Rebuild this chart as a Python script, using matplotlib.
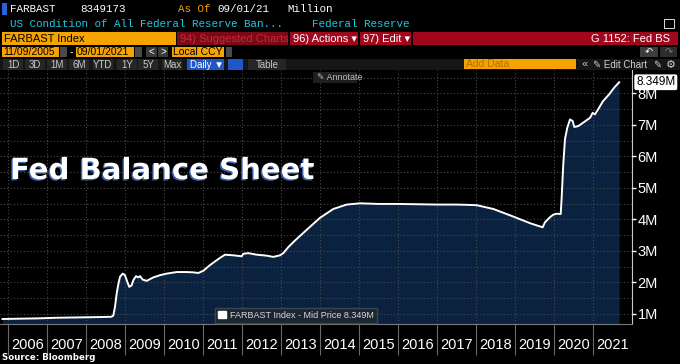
import matplotlib
matplotlib.use("Agg")
import matplotlib.pyplot as plt
import matplotlib.patheffects as pe
from matplotlib.patches import Rectangle, Patch
import numpy as np

# FARBAST Index (Fed total assets), in M = million millions USD
years = [2005.86, 2006.25, 2006.75, 2007.25, 2007.75, 2008.25, 2008.65, 2008.70,
         2008.744, 2008.787, 2008.83, 2008.872, 2008.941, 2009.0, 2009.059, 2009.11,
         2009.172, 2009.213, 2009.282, 2009.341, 2009.385, 2009.454, 2009.556, 2009.726,
         2009.897, 2010.069, 2010.326, 2010.582, 2010.751, 2010.879, 2011.008, 2011.179,
         2011.436, 2011.564, 2011.777, 2011.992, 2012.033, 2012.162, 2012.377, 2012.633,
         2012.803, 2012.974, 2013.059, 2013.187, 2013.359, 2013.659, 2014.0, 2014.341,
         2014.685, 2015.026, 2015.5, 2016.0, 2016.5, 2017.0, 2017.5, 2017.8,
         2018.018, 2018.444, 2018.956, 2019.385, 2019.556, 2019.71, 2019.769, 2019.897,
         2019.982, 2020.069, 2020.172, 2020.197, 2020.238, 2020.282, 2020.341, 2020.41,
         2020.479, 2020.521, 2020.623, 2020.751, 2020.923, 2020.992, 2021.051, 2021.18,
         2021.256, 2021.41, 2021.538, 2021.67]
values = [0.84, 0.85, 0.86, 0.88, 0.89, 0.90, 0.91, 0.95,
          1.23, 1.65, 1.95, 2.18, 2.28, 2.23, 2.02, 1.86,
          1.91, 2.07, 2.20, 2.16, 2.20, 2.09, 2.05, 2.16,
          2.23, 2.28, 2.33, 2.33, 2.32, 2.30, 2.37, 2.55,
          2.78, 2.88, 2.86, 2.83, 2.91, 2.93, 2.88, 2.85,
          2.81, 2.86, 2.93, 3.12, 3.33, 3.67, 4.05, 4.33,
          4.47, 4.51, 4.49, 4.49, 4.48, 4.47, 4.47, 4.46,
          4.45, 4.33, 4.09, 3.88, 3.81, 3.75, 3.91, 4.07,
          4.15, 4.18, 4.17, 4.70, 5.75, 6.55, 6.91, 7.17,
          7.12, 6.93, 6.96, 7.07, 7.22, 7.38, 7.33, 7.59,
          7.75, 7.96, 8.17, 8.349]
year_labels = [str(y) for y in range(2006, 2022)]
ytick_vals = [1, 2, 3, 4, 5, 6, 7, 8]
ytick_labels = ["1M", "2M", "3M", "4M", "5M", "6M", "7M", "8M"]
last_label = "8.349M"
legend_label = "FARBAST Index - Mid Price 8.349M"

W, H = 680, 364
SANS = ["Liberation Sans", "DejaVu Sans"]
MONO = ["Liberation Mono", "DejaVu Sans Mono"]

fig = plt.figure(figsize=(W / 100, H / 100), dpi=100, facecolor="black")

# chart area (pixels: x 0..632, y 70..324)
ax = fig.add_axes([0, (H - 324) / H, 632 / W, 254 / H])
ax.set_facecolor("black")
ax.fill_between(years, values, 0, color="#0a2240", lw=0, zorder=2)
ax.plot(years, values, color="white", lw=1.4, zorder=3)
ax.set_xlim(2005.795, 2022.0)
ax.set_ylim(0.682, 8.738)

ax.yaxis.tick_right()
ax.set_yticks(ytick_vals, labels=ytick_labels)
ax.set_yticks(np.arange(1.5, 8.6, 1.0), minor=True)
ax.tick_params(axis="y", which="major", colors="white", length=3, width=1, pad=1,
               labelsize=10.5)
ax.tick_params(axis="y", which="minor", length=0)
for t in ax.get_yticklabels():
    t.set_family(SANS)

year_pos = np.arange(2006, 2022)
ax.set_xticks(year_pos, labels=[])
ax.set_xticks(year_pos + 0.5, labels=year_labels, minor=True)
ax.tick_params(axis="x", which="major", direction="out", length=22, width=0.8,
               color="#6a6a6a")
ax.tick_params(axis="x", which="minor", length=0, pad=10, colors="white", labelsize=10.5)
for t in ax.get_xticklabels(minor=True):
    t.set_family(SANS)

ax.grid(True, which="major", axis="both", color="#4a4a4a", lw=0.8, ls=(0, (1, 2)), zorder=1)
ax.grid(True, which="minor", axis="y", color="#4a4a4a", lw=0.8, ls=(0, (1, 2)), zorder=1)
ax.set_axisbelow(False)
for s in ["left", "top"]:
    ax.spines[s].set_visible(False)
ax.spines["bottom"].set_color("#7a7a7a")
ax.spines["right"].set_color("#c8c8c8")

# last value tag
ax.annotate(last_label, xy=(1, values[-1]), xycoords=("axes fraction", "data"),
            xytext=(3, 0), textcoords="offset points", va="center", ha="left",
            fontsize=8.5, family=SANS, color="black",
            bbox=dict(boxstyle="round,pad=0.1", fc="white", ec="white"),
            annotation_clip=False, zorder=6)

leg = ax.legend(handles=[Patch(facecolor="white", edgecolor="white")], labels=[legend_label],
                loc="lower left", bbox_to_anchor=(215 / W, (H - 323) / H),
                bbox_transform=fig.transFigure, borderaxespad=0,
                prop={"family": SANS, "size": 6.5}, handlelength=0.9, handleheight=0.9,
                handletextpad=0.4, borderpad=0.35, fancybox=False, framealpha=1)
leg.get_frame().set_facecolor("#1c2532")
leg.get_frame().set_edgecolor("#3a4554")
for t in leg.get_texts():
    t.set_color("#d8d8d8")

# terminal chrome, drawn in pixel coordinates
ui = fig.add_axes([0, 0, 1, 1])
ui.set_xlim(0, W)
ui.set_ylim(H, 0)
ui.axis("off")
ui.patch.set_alpha(0)
ui.set_zorder(5)


def box(x0, y0, x1, y1, color, ec="none"):
    ui.add_patch(Rectangle((x0, y0), x1 - x0, y1 - y0, fc=color, ec=ec, lw=0.6))


def txt(x, y, s, color="white", size=7.5, family=SANS, ha="left", weight="normal"):
    ui.text(x, y, s, color=color, fontsize=size, family=family, ha=ha, va="center",
            weight=weight)


ORANGE = "#f5a300"
RED = "#a0061c"

# row 1
box(2, 3, 7, 15, "#2a62d8")
txt(10, 9, "FARBAST", size=7.8, family=MONO)
txt(80, 9, "8349173", size=7.8, family=MONO)
txt(178, 9, "As Of", color=ORANGE, size=7.8, family=MONO)
txt(217, 9, "09/01/21", size=7.8, family=MONO)
txt(287, 9, "Million", size=7.8, family=MONO)
# row 2
CYAN = "#20c8e6"
txt(10, 24, "US Condition of All Federal Reserve Ban...", color=CYAN, size=7.8, family=MONO)
txt(312, 24, "Federal Reserve", color=CYAN, size=7.8, family=MONO)
box(664, 19, 674, 28, "black", ec="white")
# row 3
box(2, 32, 176, 45, ORANGE)
txt(4, 38.5, "FARBAST Index", color="black", size=8)
box(177, 32, 288, 45, "#7c0a16")
txt(180, 38.5, "94) Suggested Charts", color="#c4283c", size=8)
box(290, 32, 358, 45, RED)
txt(293, 38.5, "96) Actions \u25be", size=8)
box(360, 32, 411, 45, RED)
txt(363, 38.5, "97) Edit \u25be", size=8)
box(413, 32, 678, 45, RED)
txt(670, 38.5, "G 1152: Fed BS", size=8, ha="right")
# row 4
box(2, 47, 59, 57, ORANGE)
txt(3, 52, "11/09/2005", color="black", size=7.5)
box(60, 47, 67, 57, "#4a4a4a")
txt(70, 52, "-", size=7.5)
box(76, 47, 134, 57, ORANGE)
txt(77, 52, "09/01/2021", color="black", size=7.5)
box(135, 47, 142, 57, "#4a4a4a")
box(146, 47, 157, 57, "#3a3a3a")
txt(151.5, 52, "<", size=7, ha="center")
box(158, 47, 168, 57, "#3a3a3a")
txt(163, 52, ">", size=7, ha="center")
box(172, 47, 224, 57, ORANGE)
txt(173, 52, "Local CCY", color="black", size=7.5)
box(226, 47, 232, 57, "#4a4a4a")
box(640, 47, 658, 57, "#3c3c3c")
txt(649, 52, "\u21b6", size=7, ha="center")
box(660, 47, 677, 57, "#2c2c2c")
txt(668.5, 52, "\u21b7", color="#777777", size=7, ha="center")
# row 5
box(0, 59, 680, 70, "#161616")
for label, cx in zip(["1D", "3D", "1M", "6M", "YTD", "1Y", "5Y", "Max"],
                     [13, 35, 57, 79, 103, 127, 148, 172]):
    box(cx - 10, 59, cx + 10, 70, "#262626")
    txt(cx, 64.5, label, color="#c8c8c8", size=7, ha="center")
box(187, 59, 224, 70, "#1f57c8")
txt(190, 64.5, "Daily \u25bc", size=7)
box(228, 59, 243, 70, "#1f57c8")
box(248, 59, 286, 70, "#262626")
txt(267, 64.5, "Table", color="#c8c8c8", size=7, ha="center")
box(464, 59, 576, 69, ORANGE)
txt(466, 64, "Add Data", color="#b86e00", size=7.5)
txt(585, 64.5, "\u00ab", color="#c8c8c8", size=8, ha="center")
txt(593, 64.5, "\u270e Edit Chart", color="#d0d0d0", size=7)
txt(657, 64.5, "\u270e", color="#d0d0d0", size=7, ha="center")
txt(671, 64.5, "\u2699", color="#d0d0d0", size=8, ha="center")
# annotate button
box(313, 72, 357, 83, "#1e1e1e")
txt(317, 77.5, "\u270e Annotate", color="#bdbdbd", size=6.5)

# big title
t = ui.text(10, 171, "Fed Balance Sheet", color="white", fontsize=21, weight="bold",
            family=["DejaVu Sans"], va="center", ha="left")
t.set_path_effects([pe.withSimplePatchShadow(offset=(-1, -1), shadow_rgbFace="#3c6cc8",
                                             alpha=0.9)])

txt(2, 358, "Source: Bloomberg", size=6.2, weight="bold", family=["DejaVu Sans"])

fig.savefig("out.png", dpi=100, facecolor="black")
